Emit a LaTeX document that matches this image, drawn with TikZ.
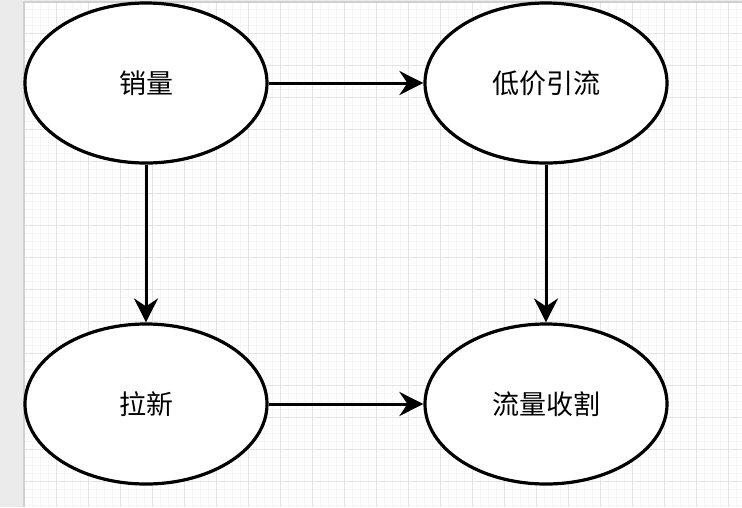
\documentclass[tikz,border=0pt]{standalone}
\usepackage{fontspec}
\newfontfamily\cjk{Noto Sans CJK SC}
\usetikzlibrary{shapes.geometric,arrows.meta}
\definecolor{panelgray}{HTML}{EBEBEB}
\definecolor{edgegray}{HTML}{D0D0D0}
\definecolor{minorgrid}{HTML}{F5F5F5}
\definecolor{majorgrid}{HTML}{E3E3E3}
\tikzstyle{stage} = [ellipse, draw, line width=3.2pt, fill=white, minimum width=242pt, minimum height=160pt, font=\cjk\fontsize{27}{32}\selectfont]
\tikzstyle{connector} = [line width=3pt, -{Stealth[length=24pt,width=24pt,inset=8pt]}]

\begin{document}
\begin{tikzpicture}[x=1pt, y=-1pt]
    \useasboundingbox (0,0) rectangle (742,507);
    % canvas and grid
    \fill[panelgray] (0,0) rectangle (742,507);
    \fill[white] (24,2) rectangle (742,507);
    \foreach \gx in {24,32,...,742} \draw[minorgrid, line width=1pt] (\gx,2) -- (\gx,507);
    \foreach \gy in {9,17,...,507} \draw[minorgrid, line width=1pt] (24,\gy) -- (742,\gy);
    \foreach \gx in {56,88,...,742} \draw[majorgrid, line width=1pt] (\gx,2) -- (\gx,507);
    \foreach \gy in {33,65,...,507} \draw[majorgrid, line width=1pt] (24,\gy) -- (742,\gy);
    \draw[edgegray, line width=1.5pt] (24,507) -- (24,2) -- (742,2);
    % stages
    \node (sales) [stage] at (146,83) {销量};
    \node (lowprice) [stage] at (546,83) {低价引流};
    \node (newuser) [stage] at (146,404) {拉新};
    \node (harvest) [stage] at (546,404) {流量收割};
    \draw [connector] (sales) -- (lowprice);
    \draw [connector] (sales) -- (newuser);
    \draw [connector] (lowprice) -- (harvest);
    \draw [connector] (newuser) -- (harvest);
\end{tikzpicture}
\end{document}
